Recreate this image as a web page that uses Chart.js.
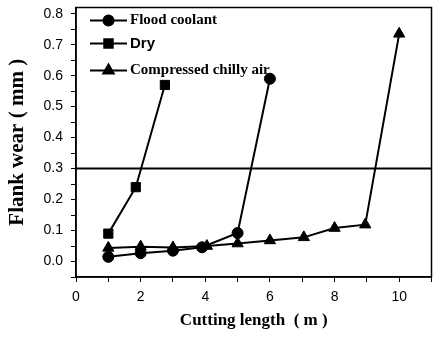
<!DOCTYPE html>
<html>
<head>
<meta charset="utf-8">
<script src="https://cdn.jsdelivr.net/npm/chart.js@4"></script>
<style>
  html, body { margin: 0; padding: 0; background: #fff; }
  #wrap { width: 439px; height: 343px; }
</style>
</head>
<body>
<div id="wrap"><canvas id="wear"></canvas></div>
<script>
const seriesNames = ["Flood coolant", "Dry", "Compressed chilly air"];

const floodX = [1, 2, 3, 3.9, 5, 6];
const floodY = [0.015, 0.027, 0.035, 0.046, 0.092, 0.59];

const dryX = [1, 1.85, 2.75];
const dryY = [0.09, 0.24, 0.57];

const chillyX = [1, 2, 3, 4.05, 5, 6, 7.05, 8, 8.95, 10];
const chillyY = [0.044, 0.048, 0.045, 0.05, 0.058, 0.068, 0.078, 0.108, 0.119, 0.735];

const limitY = 0.3;
const xRange = [0, 11];
const yRange = [-0.05, 0.82];

function toPoints(xs, ys) {
  return xs.map((x, i) => ({ x: x, y: ys[i] }));
}

const markers = [
  { style: "circle", radius: 5.5 },
  { style: "rect", radius: 6.5 },
  { style: "triangle", radius: 6.5 },
];

// box round the plot and the legend (line + marker + text)
const framePlugin = {
  id: "frame",
  afterDraw(chart) {
    const { ctx, chartArea } = chart;
    ctx.save();
    ctx.strokeStyle = "#000";
    ctx.lineWidth = 1.5;
    ctx.strokeRect(chartArea.left, chartArea.top, chartArea.right - chartArea.left, chartArea.bottom - chartArea.top);

    const rows = [13, 36, 63];
    const fonts = [
      "bold 15px 'Liberation Serif'",
      "bold 15px 'Liberation Sans'",
      "bold 15px 'Liberation Serif'",
    ];
    const x0 = chartArea.left + 14;
    const x1 = chartArea.left + 51;
    seriesNames.forEach((name, i) => {
      const y = chartArea.top + rows[i];
      ctx.strokeStyle = "#000";
      ctx.lineWidth = 2;
      ctx.beginPath();
      ctx.moveTo(x0, y);
      ctx.lineTo(x1, y);
      ctx.stroke();
      Chart.helpers.drawPoint(ctx, {
        pointStyle: markers[i].style,
        radius: markers[i].radius - 0.5,
        borderWidth: 1,
        rotation: 0,
      }, (x0 + x1) / 2, y);
      ctx.fillStyle = "#000";
      ctx.fill();
      ctx.font = fonts[i];
      ctx.textBaseline = "middle";
      ctx.textAlign = "left";
      ctx.fillText(name, x1 + 3, y);
    });
    ctx.restore();
  },
};

function series(name, xs, ys, i) {
  return {
    label: name,
    data: toPoints(xs, ys),
    showLine: true,
    borderColor: "#000",
    backgroundColor: "#000",
    borderWidth: 2,
    pointStyle: markers[i].style,
    pointRadius: markers[i].radius,
    pointBorderWidth: 1,
  };
}

const data = {
  datasets: [
    series(seriesNames[0], floodX, floodY, 0),
    series(seriesNames[1], dryX, dryY, 1),
    series(seriesNames[2], chillyX, chillyY, 2),
    {
      label: "limit",
      data: toPoints(xRange, [limitY, limitY]),
      showLine: true,
      borderColor: "#000",
      borderWidth: 2,
      pointRadius: 0,
    },
  ],
};

const config = {
  type: "scatter",
  data: data,
  options: {
    responsive: true,
    maintainAspectRatio: false,
    animation: false,
    layout: { padding: { top: 7, right: 3, left: 0, bottom: 0 } },
    plugins: {
      legend: { display: false },
      tooltip: { enabled: false },
    },
    scales: {
      x: {
        type: "linear",
        min: xRange[0],
        max: xRange[1],
        afterFit: (scale) => {
          scale.height = 66;
          scale.paddingLeft = 0;
          scale.paddingRight = 0;
        },
        border: { color: "#000", width: 1.5 },
        grid: { drawOnChartArea: false, tickLength: 5, color: "#000" },
        ticks: {
          stepSize: 1,
          autoSkip: false,
          maxRotation: 0,
          padding: 7,
          color: "#000",
          font: { family: "'Liberation Sans'", size: 14 },
          callback: (v) => (v % 2 === 0 && v <= 10 ? String(v) : ""),
        },
        title: {
          display: true,
          text: "Cutting length  ( m )",
          color: "#000",
          font: { family: "'Liberation Serif'", size: 17, weight: "bold" },
          padding: { bottom: 12 },
        },
      },
      y: {
        type: "linear",
        min: yRange[0],
        max: yRange[1],
        afterFit: (scale) => {
          scale.width = 76;
          scale.paddingTop = 0;
          scale.paddingBottom = 0;
        },
        border: { color: "#000", width: 1.5 },
        grid: { drawOnChartArea: false, tickLength: 5, color: "#000" },
        ticks: {
          stepSize: 0.05,
          includeBounds: false,
          autoSkip: false,
          padding: 8,
          color: "#000",
          font: { family: "'Liberation Sans'", size: 14 },
          callback: (v) => {
            const t = v * 10;
            return v >= -1e-9 && Math.abs(t - Math.round(t)) < 1e-6 ? Math.abs(v).toFixed(1) : "";
          },
        },
        title: {
          display: true,
          text: "Flank wear ( mm )",
          color: "#000",
          font: { family: "'Liberation Serif'", size: 21, weight: "bold" },
          padding: { top: 5 },
        },
      },
    },
  },
  plugins: [framePlugin],
};

new Chart(document.querySelector("#wear"), config);
</script>
</body>
</html>
